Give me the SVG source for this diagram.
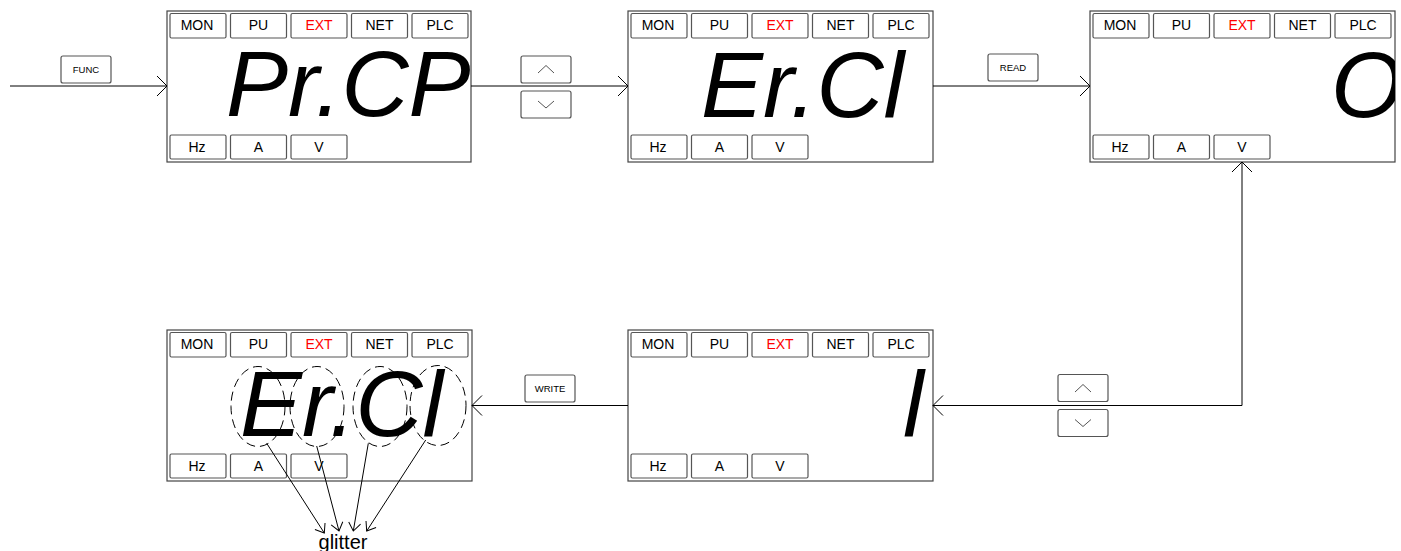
<svg xmlns="http://www.w3.org/2000/svg" width="1401" height="551" viewBox="0 0 1401 551">
<style>
text{font-family:"Liberation Sans",Arial,sans-serif;}
.frame{fill:#fff;stroke:#444;stroke-width:1.2;}
.mb{fill:#fff;stroke:#555;stroke-width:1.2;}
.ml{font-size:14px;text-anchor:middle;fill:#000;}
.ext{fill:#ff0000;}
.big{font-size:93px;font-style:italic;fill:#000;}
.key{fill:#fff;stroke:#555;stroke-width:1.2;}
.kl{font-size:9.5px;text-anchor:middle;fill:#000;}
.chev{fill:none;stroke:#555;stroke-width:1;}
.con{fill:none;stroke:#000;stroke-width:1;}
.dash{fill:none;stroke:#000;stroke-width:1;stroke-dasharray:9 5;}
</style>
<defs>
<marker id="ah" viewBox="0 0 12 22" refX="11" refY="11" markerWidth="12" markerHeight="22" markerUnits="userSpaceOnUse" orient="auto-start-reverse">
<path d="M1,1 L11,11 L1,21" fill="none" stroke="#000" stroke-width="1"/>
</marker>
<marker id="ahs" viewBox="0 0 10 14" refX="9" refY="7" markerWidth="10" markerHeight="14" markerUnits="userSpaceOnUse" orient="auto">
<path d="M1,1 L9,7 L1,13" fill="none" stroke="#000" stroke-width="1"/>
</marker>
<clipPath id="clip3"><rect x="1090" y="11" width="305" height="151"/></clipPath>
<g id="modes">
<rect class="mb" x="3" y="2.5" width="56" height="24.5" rx="1.5"/>
<rect class="mb" x="63.5" y="2.5" width="56" height="24.5" rx="1.5"/>
<rect class="mb" x="124" y="2.5" width="56" height="24.5" rx="1.5"/>
<rect class="mb" x="184.5" y="2.5" width="56" height="24.5" rx="1.5"/>
<rect class="mb" x="245" y="2.5" width="56" height="24.5" rx="1.5"/>
<rect class="mb" x="3" y="124" width="56" height="24" rx="1.5"/>
<rect class="mb" x="63.5" y="124" width="56" height="24" rx="1.5"/>
<rect class="mb" x="124" y="124" width="56" height="24" rx="1.5"/>
<text class="ml" x="30" y="19">MON</text>
<text class="ml" x="91.5" y="19">PU</text>
<text class="ml ext" x="152" y="19">EXT</text>
<text class="ml" x="212.5" y="19">NET</text>
<text class="ml" x="273" y="19">PLC</text>
<text class="ml" x="30" y="141">Hz</text>
<text class="ml" x="91.5" y="141">A</text>
<text class="ml" x="152" y="141">V</text>
</g>
</defs>

<g id="key-func">
<rect class="key" x="61" y="56" width="50" height="27" rx="2"/>
<text class="kl" x="86" y="73">FUNC</text>
</g>
<g id="key-updown-1">
<rect class="key" x="521" y="56" width="50" height="27" rx="2"/>
<path class="chev" d="M538,73 L546,65.5 L554,73"/>
<rect class="key" x="521" y="91" width="50" height="27" rx="2"/>
<path class="chev" d="M538,101 L546,108 L554,101"/>
</g>
<g id="key-read">
<rect class="key" x="988" y="54" width="50" height="27" rx="2"/>
<text class="kl" x="1013" y="71">READ</text>
</g>
<g id="key-updown-2">
<rect class="key" x="1058" y="374.5" width="50" height="27" rx="2"/>
<path class="chev" d="M1075,392 L1083,384.5 L1091,392"/>
<rect class="key" x="1058" y="409.5" width="50" height="27" rx="2"/>
<path class="chev" d="M1075,419.5 L1083,426.5 L1091,419.5"/>
</g>
<g id="key-write">
<rect class="key" x="525" y="375" width="50" height="27" rx="2"/>
<text class="kl" x="550" y="392">WRITE</text>
</g>

<g id="panel-1">
<rect class="frame" x="167" y="11" width="304" height="151"/>
<use href="#modes" x="167" y="11"/>
<text class="big" x="226" y="116">Pr.CP</text>
</g>
<g id="panel-2">
<rect class="frame" x="628" y="11" width="305" height="151"/>
<use href="#modes" x="628" y="11"/>
<text class="big" x="701" y="117">Er.Cl</text>
</g>
<g id="panel-3">
<rect class="frame" x="1090" y="11" width="305" height="151"/>
<use href="#modes" x="1090" y="11"/>
<text class="big" x="1331" y="117" clip-path="url(#clip3)">O</text>
</g>
<g id="panel-5">
<rect class="frame" x="628" y="330" width="305" height="151"/>
<use href="#modes" x="628" y="330"/>
<text class="big" x="903" y="436">l</text>
</g>
<g id="panel-4">
<rect class="frame" x="167" y="330" width="305" height="151"/>
<use href="#modes" x="167" y="330"/>
<text class="big" x="240" y="436">Er.Cl</text>
<ellipse class="dash" cx="258" cy="406.5" rx="27" ry="40"/>
<ellipse class="dash" cx="317" cy="406.5" rx="27" ry="40"/>
<ellipse class="dash" cx="380" cy="406.5" rx="27" ry="40"/>
<ellipse class="dash" cx="438" cy="405.5" rx="28" ry="40"/>
</g>
<g id="label-glitter">
<text x="343" y="549" style="font-size:20px;text-anchor:middle;">glitter</text>
</g>

<g id="connectors">
<path class="con" d="M10,86 H167" marker-end="url(#ah)"/>
<path class="con" d="M471,86 H628" marker-end="url(#ah)"/>
<path class="con" d="M933,86 H1090" marker-end="url(#ah)"/>
<path class="con" d="M1242,162 V405.5 H933" marker-start="url(#ah)" marker-end="url(#ah)"/>
<path class="con" d="M628,405.5 H472" marker-end="url(#ah)"/>
<path class="con" d="M266.7,443.3 L324.3,533" marker-end="url(#ahs)"/>
<path class="con" d="M316.7,446 L339,531" marker-end="url(#ahs)"/>
<path class="con" d="M368.3,443.3 L353.3,531" marker-end="url(#ahs)"/>
<path class="con" d="M425.7,440 L366.7,531" marker-end="url(#ahs)"/>
</g>
</svg>
